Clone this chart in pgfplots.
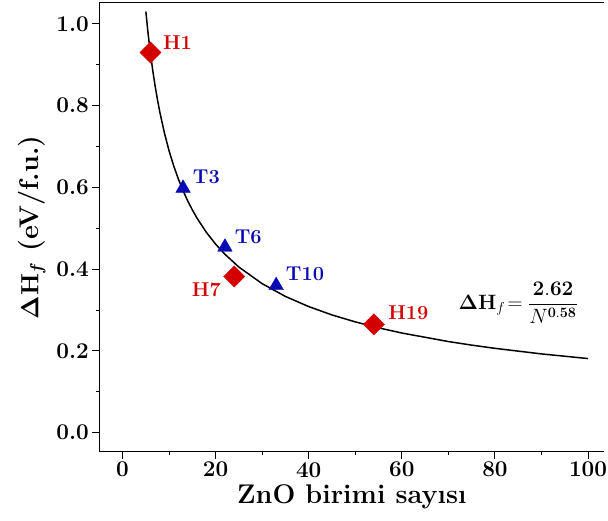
\documentclass[border=0pt]{standalone}
\usepackage{amsmath}
\usepackage{pgfplots}
\pgfplotsset{compat=1.18}
\definecolor{myred}{HTML}{D40000}
\definecolor{myblue}{HTML}{0A0AB4}
\begin{document}
\begin{tikzpicture}
\begin{axis}[
  scale only axis,
  width=505pt, height=448.7pt,
  xmin=-5, xmax=103.5, ymin=-0.0465, ymax=1.051,
  axis x line*=box, axis y line*=left,
  axis line style={line width=1pt},
  xtick pos=bottom, ytick pos=left,
  tick align=outside,
  major tick length=7pt, minor tick length=3.5pt,
  every tick/.style={line width=0.9pt, black},
  xtick={0,20,40,60,80,100},
  ytick={0,0.2,0.4,0.6,0.8,1.0},
  minor x tick num=1, minor y tick num=1,
  /pgf/number format/assume math mode=true,
  ticklabel style={font=\bfseries\fontsize{22.5}{25}\selectfont},
  yticklabel style={/pgf/number format/.cd, fixed, fixed zerofill, precision=1},
  xlabel={ZnO birimi sayısı},
  ylabel={$\Delta\mathrm{H}_f$ (eV/f.u.)},
  label style={font=\bfseries\boldmath\fontsize{27}{30}\selectfont},
  ylabel style={yshift=4pt},
  clip=false,
]
\coordinate (SW) at (rel axis cs:0,0);
\coordinate (NE) at (rel axis cs:1,1);
\addplot[black, line width=1.5pt] coordinates {
(5,1.0301)(5.5,0.9747)(6,0.9268)(6.5,0.8847)(7,0.8475)(7.5,0.8143)(8,0.7844)(9,0.7326)(10,0.6891)(11,0.6521)(12,0.6200)(13,0.5919)(14,0.5669)(15,0.5447)(16,0.5247)(18,0.4901)(20,0.4610)(22,0.4363)(25,0.4050)(30,0.3644)(35,0.3332)(40,0.3084)(45,0.2880)(50,0.2710)(55,0.2564)(60,0.2438)(70,0.2229)(75,0.2142)(80,0.2063)(90,0.1927)(100,0.1813)
};
\addplot[only marks, mark=square*, mark size=7.5pt, mark options={rotate=45, fill=myred, draw=myred}] coordinates {(6,0.930)(24,0.382)(54,0.265)};
\addplot[only marks, mark=triangle*, mark size=8.4pt, mark options={fill=myblue, draw=myblue}] coordinates {(13,0.598)(22,0.454)(33,0.360)};
\begin{scope}[every node/.style={font=\bfseries\fontsize{20}{22}\selectfont}]
\node[text=myred] at (axis cs:11.8,0.953) {H1};
\node[text=myblue] at (axis cs:18.0,0.626) {T3};
\node[text=myblue] at (axis cs:27.0,0.479) {T6};
\node[text=myred] at (axis cs:18.0,0.349) {H7};
\node[text=myblue] at (axis cs:39.2,0.388) {T10};
\node[text=myred] at (axis cs:61.4,0.293) {H19};
\end{scope}
\node[font=\fontsize{22.5}{25}\selectfont] at (axis cs:85,0.317) {$\mathbf{\Delta H}_f\!=\dfrac{\mathbf{2.62}}{N^{\mathbf{0.58}}}$};
\end{axis}
\pgfresetboundingbox
\path[use as bounding box] ([shift={(-99.3pt,-69.3pt)}]SW) rectangle ([shift={(3.7pt,3pt)}]NE);
\end{tikzpicture}
\end{document}
